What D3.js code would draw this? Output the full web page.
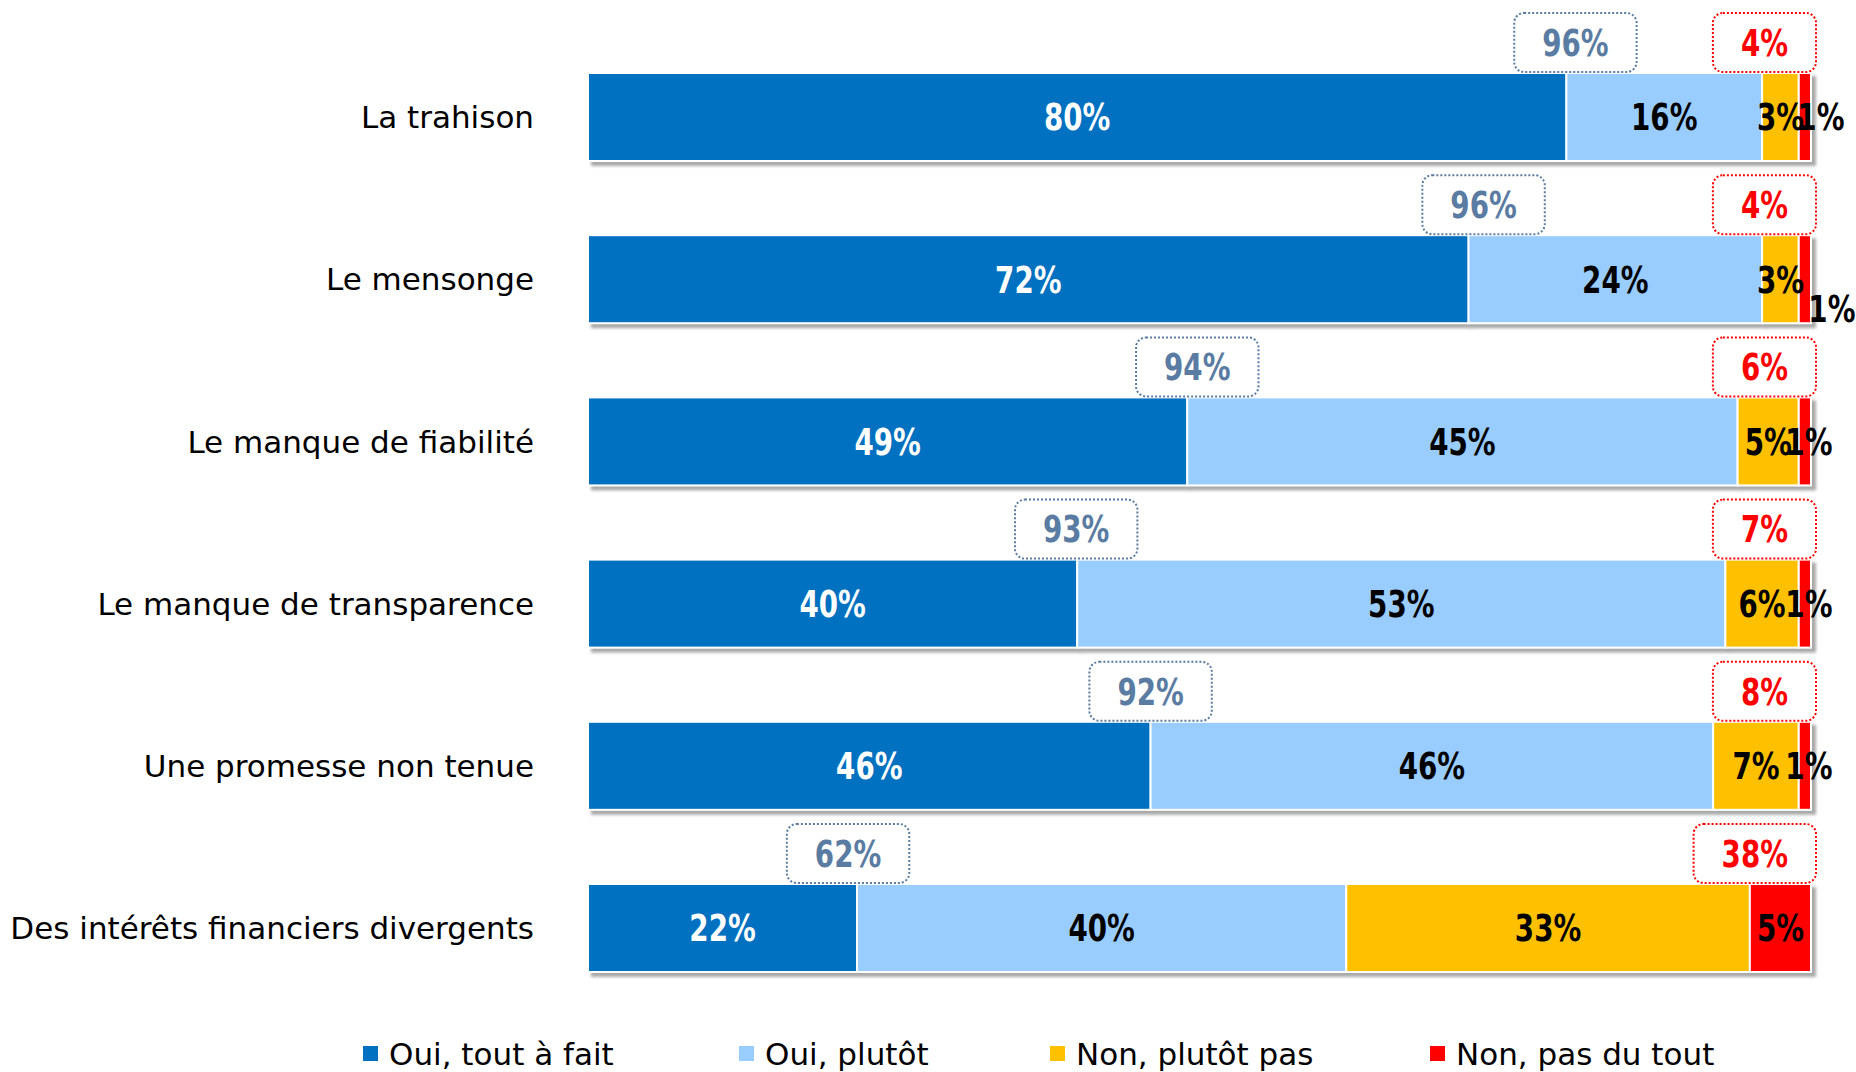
<!DOCTYPE html>
<html>
<head>
<meta charset="utf-8">
<script src="https://cdn.jsdelivr.net/npm/d3@7"></script>
<style>
  html, body { margin: 0; padding: 0; background: #ffffff; }
  svg { display: block; }
</style>
</head>
<body>
<svg id="chart" width="1856" height="1072"></svg>
<script>
// ---- Data ----
const categories = [
  "La trahison",
  "Le mensonge",
  "Le manque de fiabilité",
  "Le manque de transparence",
  "Une promesse non tenue",
  "Des intérêts financiers divergents"
];
const seriesNames = ["Oui, tout à fait", "Oui, plutôt", "Non, plutôt pas", "Non, pas du tout"];
const ouiToutAFait = [80, 72, 49, 40, 46, 22];
const ouiPlutot    = [16, 24, 45, 53, 46, 40];
const nonPlutotPas = [3, 3, 5, 6, 7, 33];
const nonPasDuTout = [1, 1, 1, 1, 1, 5];
const totalOui = [96, 96, 94, 93, 92, 62];
const totalNon = [4, 4, 6, 7, 8, 38];

// ---- Styles / layout (not data) ----
const colors = ["#0070C0", "#99CCFF", "#FFC000", "#FF0000"];
const labelColors = ["#ffffff", "#000000", "#000000", "#000000"];
const totalOuiColor = "#5A7BA2";
const totalNonColor = "#FF0000";
// manual nudges of overlapping small labels, as in the original layout
const labelNudges = { "0-3": [16, 0], "1-3": [27, 29], "2-3": [4, 0], "3-3": [4, 0], "4-3": [4, 0] };
// manual horizontal nudges of the "Oui" total boxes, as in the original layout
const ouiBoxNudges = [9, 15, 10, -1, 0, -9];
const legendX = [363, 739, 1050, 1430];

const series = [ouiToutAFait, ouiPlutot, nonPlutotPas, nonPasDuTout];
const rows = categories.map((c, i) => {
  const r = { category: c };
  seriesNames.forEach((s, k) => r[s] = series[k][i]);
  return r;
});
const stacked = d3.stack().keys(seriesNames)(rows);

const svg = d3.select("#chart");

// shadow filter
const defs = svg.append("defs");
const f = defs.append("filter").attr("id", "shadow")
  .attr("x", "-5%").attr("y", "-20%").attr("width", "110%").attr("height", "150%");
f.append("feDropShadow").attr("dx", 4).attr("dy", 4).attr("stdDeviation", 1.6)
  .attr("flood-color", "#8c8c8c").attr("flood-opacity", 0.75);

const x = d3.scaleLinear().domain([0, 100]).range([588, 1811]);
const y = d3.scaleBand().domain(categories).range([73, 972]).paddingInner(0.4575).paddingOuter(0);
const bw = y.bandwidth();

const boldFont = "'DejaVu Sans', Verdana, sans-serif";
const regFont = "'DejaVu Sans', Verdana, sans-serif";
const labelSize = 37;
const labelSX = 0.75;

// category labels
svg.append("g").selectAll("text").data(categories).join("text")
  .attr("x", 534)
  .attr("y", d => y(d) + bw / 2 + 31 * 0.36)
  .attr("text-anchor", "end")
  .attr("font-family", regFont)
  .attr("font-size", 31)
  .attr("fill", "#000")
  .text(d => d);

// bars per row with shadow
const rowG = svg.append("g").selectAll("g.row").data(categories).join("g")
  .attr("class", "row")
  .attr("filter", "url(#shadow)");

rowG.each(function(cat, i) {
  const g = d3.select(this);
  stacked.forEach((layer, k) => {
    const seg = layer[i];
    g.append("rect")
      .attr("x", x(seg[0]))
      .attr("y", y(cat))
      .attr("width", x(seg[1]) - x(seg[0]))
      .attr("height", bw)
      .attr("fill", colors[k])
      .attr("stroke", "#ffffff")
      .attr("stroke-width", 2);
  });
});

// segment labels
const labG = svg.append("g");
stacked.forEach((layer, k) => {
  layer.forEach((seg, i) => {
    const cat = categories[i];
    const nudge = labelNudges[i + "-" + k] || [0, 0];
    const cx = (x(seg[0]) + x(seg[1])) / 2 + nudge[0];
    const cy = y(cat) + bw / 2 + labelSize * 0.36 + nudge[1];
    labG.append("text")
      .attr("transform", `translate(${cx},${cy}) scale(${labelSX},1)`)
      .attr("text-anchor", "middle")
      .attr("font-family", boldFont)
      .attr("font-weight", "bold")
      .attr("font-size", labelSize)
      .attr("fill", labelColors[k])
      .text(series[k][i] + "%");
  });
});

// total boxes
const boxH = 59;
const totG = svg.append("g");
function totalBox(cx, top, txt, color, rightAlign) {
  const t = totG.append("text")
    .attr("text-anchor", "middle")
    .attr("font-family", boldFont)
    .attr("font-weight", "bold")
    .attr("font-size", labelSize)
    .attr("fill", color)
    .text(txt);
  const tw = t.node().getComputedTextLength() * labelSX;
  const w = tw + 56;
  let left = rightAlign ? cx - w : cx - w / 2;
  const center = left + w / 2;
  totG.insert("rect", "text")
    .attr("x", left).attr("y", top)
    .attr("width", w).attr("height", boxH)
    .attr("rx", 10).attr("ry", 10)
    .attr("fill", "#ffffff")
    .attr("stroke", color)
    .attr("stroke-width", 2)
    .attr("stroke-dasharray", "2,2");
  t.attr("transform", `translate(${center},${top + boxH / 2 + labelSize * 0.36}) scale(${labelSX},1)`);
}
categories.forEach((cat, i) => {
  const top = y(cat) - boxH - 1;
  totalBox(x(ouiToutAFait[i]) + ouiBoxNudges[i], top, totalOui[i] + "%", totalOuiColor, false);
  totalBox(x(100) + 5, top, totalNon[i] + "%", totalNonColor, true);
});

// legend
const legend = svg.append("g");
const ly = 1054;
seriesNames.forEach((name, k) => {
  const lx = legendX[k];
  legend.append("rect")
    .attr("x", lx).attr("y", ly - 8)
    .attr("width", 15).attr("height", 15)
    .attr("fill", colors[k]);
  legend.append("text")
    .attr("x", lx + 26)
    .attr("y", ly + 31 * 0.36)
    .attr("font-family", regFont)
    .attr("font-size", 31)
    .attr("fill", "#000")
    .text(name);
});
</script>
</body>
</html>
